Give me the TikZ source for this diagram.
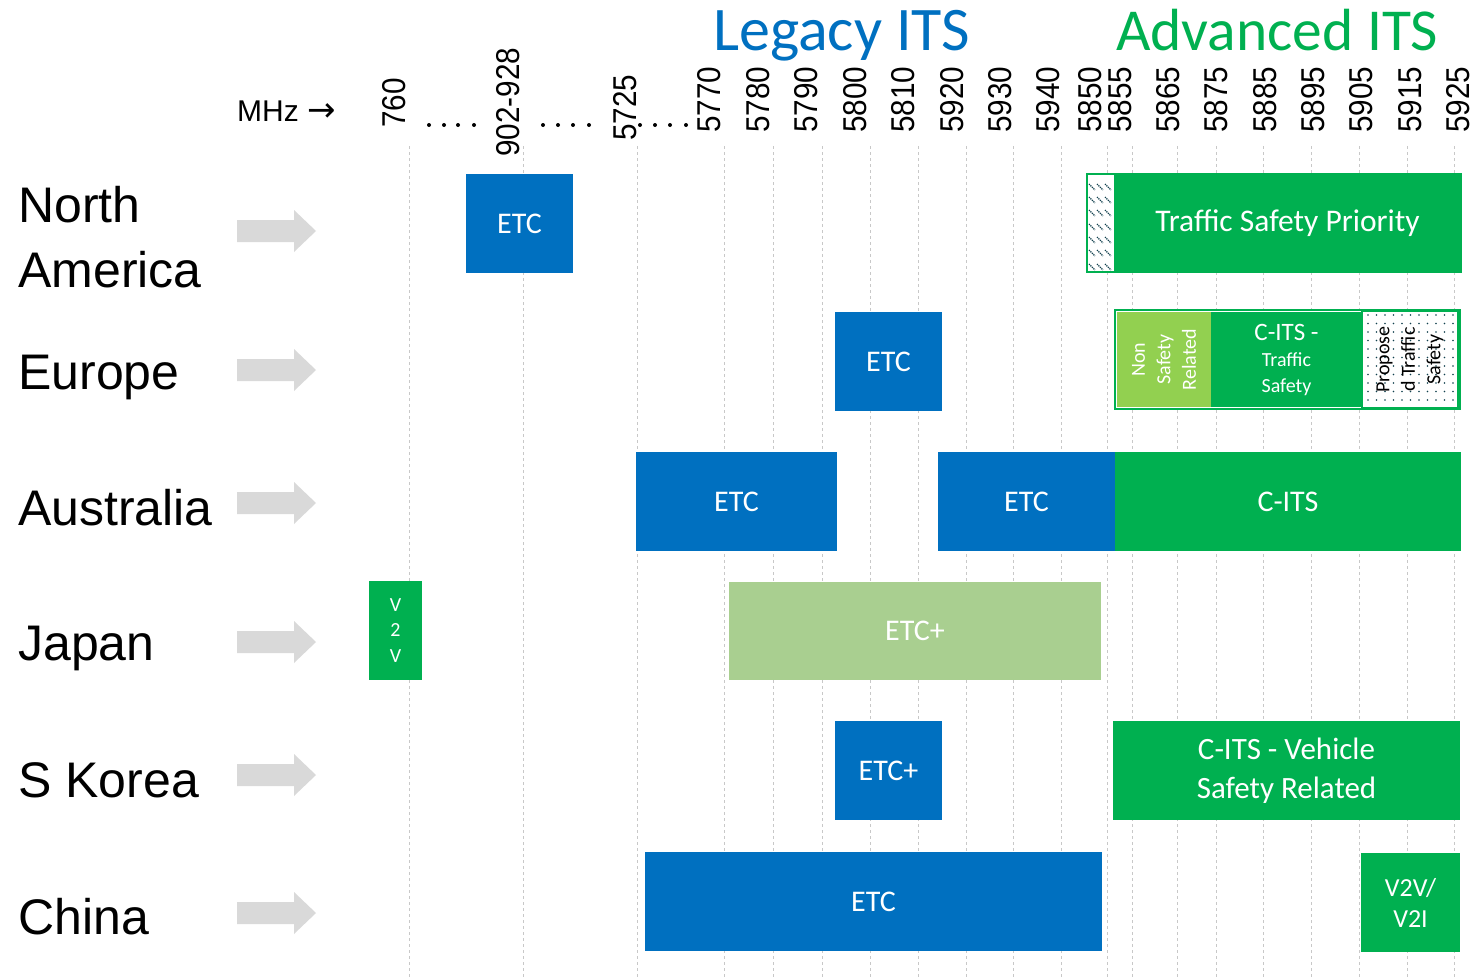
\documentclass[tikz,border=0pt]{standalone}
\usepackage{fontspec}
\setmainfont{Carlito}
\newfontfamily\arialf{Liberation Sans}
\newfontfamily\narrowf[FakeStretch=0.9]{Liberation Sans}
\newfontfamily\symf{DejaVu Sans}

\definecolor{itsblue}{HTML}{0070C0}
\definecolor{itsgreen}{HTML}{00B050}
\definecolor{lightgrn}{HTML}{92D050}
\definecolor{sage}{HTML}{A9CF90}
\definecolor{arrowgrey}{HTML}{D9D9D9}
\definecolor{gridgrey}{HTML}{C8C8C8}
\definecolor{patteal}{HTML}{12414F}

\begin{document}
\begin{tikzpicture}[x=1pt,y=-1pt,
  band/.style={rectangle, inner sep=0pt, outer sep=0pt, text=white, align=center,
    font=\fontsize{30}{36}\selectfont},
  blueband/.style={band, fill=itsblue},
  greenband/.style={band, fill=itsgreen},
  freqlabel/.style={rotate=90, anchor=south west, inner sep=0pt,
    font=\narrowf\fontsize{33}{33}\selectfont},
  country/.style={anchor=base west, inner sep=0pt, align=left,
    font=\arialf\fontsize{50}{65}\selectfont},
  gridline/.style={gridgrey, line width=0.9pt, dash pattern=on 3pt off 3pt},
  sidetext/.style={rotate=90, inner sep=0pt, align=center,
    font=\fontsize{20}{25.5}\selectfont},
]
\useasboundingbox (0,0) rectangle (1480,977);

% frequency columns
\foreach \gx in {409,523,637,724,773,822,870,918,966,1013,1061,1107,1132,1177,1216,1263,1311,1359,1407,1454}
  \draw[gridline] (\gx,146) -- (\gx,977);

% headings
\node[anchor=base west, inner sep=0pt, text=itsblue, font=\fontsize{62}{62}\selectfont]
  (legacy) at (713,50) {Legacy ITS};
\node[anchor=base west, inner sep=0pt, text=itsgreen, font=\fontsize{59.5}{59.5}\selectfont]
  (advanced) at (1116,50) {Advanced ITS};

% axis unit
\node[anchor=base west, inner sep=0pt, font=\arialf\fontsize{30}{30}\selectfont]
  (unit) at (237,121) {MHz {\symf\fontsize{34}{34}\selectfont →}};

% frequency labels
\foreach \r/\b/\t [count=\k] in {406/128/760, 520/157/902-928, 637/141/5725, 721/133/5770,
    770/133/5780, 818/133/5790, 867/133/5800, 915/133/5810, 964/133/5920, 1012/133/5930,
    1060/133/5940, 1102/133/5850, 1132/133/5855, 1180/133/5865, 1228/133/5875,
    1277/133/5885, 1325/133/5895, 1373/133/5905, 1422/133/5915, 1470/133/5925}
  \node[freqlabel] (freq\k) at (\r,\b) {\t};

% gaps in the frequency axis
\foreach \dx in {429,444,458,474,543,558,573,589,640,655,670,686}
  \fill (\dx,125) circle[radius=2pt];

% regions
\node[country] (na) at (18,287) {North\\America};
\node[country] (eu) at (18,389) {Europe};
\node[country] (au) at (18,525) {Australia};
\node[country] (jp) at (18,660) {Japan};
\node[country] (kr) at (18,797) {S Korea};
\node[country] (cn) at (18,934) {China};

% grey pointers
\foreach \ay in {231,370,503,642,775,913}
  \fill[arrowgrey] (237,\ay) ++(0,-11) -- ++(57,0) -- ++(0,-10) -- ++(22,21)
    -- ++(-22,21) -- ++(0,-10) -- ++(-57,0) -- cycle;

% North America
\node[blueband, minimum width=107pt, minimum height=99pt] (naetc) at (519.5,223.5) {ETC};
\node[draw=itsgreen, line width=2pt, fill=white, minimum width=28pt, minimum height=98pt,
  inner sep=0pt] (nahatch) at (1101,223) {};
\foreach \hy in {187,200,213,227,240,253,267}
  \foreach \hx in {1089,1097,1105}
    \draw[patteal, line width=1.3pt, dash pattern=on 1.2pt off 0.9pt]
      (\hx,\hy-3) -- (\hx+6,\hy+3);
\draw[itsgreen, line width=2pt] (1087,174) rectangle (1461,272);
\node[greenband, minimum width=347pt, minimum height=99pt, font=\fontsize{31.5}{36}\selectfont]
  (natsp) at (1287.5,223.5) {Traffic Safety Priority};

% Europe
\node[blueband, minimum width=107pt, minimum height=99pt] (euetc) at (888.5,361.5) {ETC};
\draw[itsgreen, line width=2pt] (1115,310) rectangle (1460,409);
\node[band, fill=lightgrn, minimum width=94pt, minimum height=95pt] (eunsr) at (1164,359.5) {};
\node[sidetext, text=white] (eunsrtext) at (eunsr.center) {Non\\Safety\\Related};
\node[greenband, minimum width=151pt, minimum height=95pt, font=\fontsize{20}{26}\selectfont]
  (eucits) at (1286.5,359.5) {{\fontsize{25}{26}\selectfont C-ITS -}\\Traffic\\Safety};
\node[draw=itsgreen, line width=1.5pt, fill=white, minimum width=96pt, minimum height=97pt,
  inner sep=0pt] (euprop) at (1410,359.5) {};
\foreach \i in {0,...,10}
  \foreach \j in {0,...,10}
    \fill[patteal] ({1368+8.5*\i},{315+8.5*\j}) circle[radius=0.9pt];
\node[sidetext, text=black] (euproptext) at (euprop.center) {Propose\\d Traffic\\Safety};

% Australia
\node[blueband, minimum width=201pt, minimum height=99pt] (auetca) at (736.5,501.5) {ETC};
\node[blueband, minimum width=177pt, minimum height=99pt] (auetcb) at (1026.5,501.5) {ETC};
\node[greenband, minimum width=346pt, minimum height=99pt] (aucits) at (1288,501.5) {C-ITS};

% Japan
\node[greenband, minimum width=53pt, minimum height=99pt, font=\fontsize{20}{25.5}\selectfont]
  (jpv2v) at (395.5,630.5) {V\\2\\V};
\node[band, fill=sage, minimum width=372pt, minimum height=98pt] (jpetc) at (915,631) {ETC+};

% S Korea
\node[blueband, minimum width=107pt, minimum height=99pt] (kretc) at (888.5,770.5) {ETC+};
\node[greenband, minimum width=347pt, minimum height=99pt, font=\fontsize{31}{39}\selectfont]
  (krcits) at (1286.5,770.5) {C-ITS - Vehicle\\Safety Related};

% China
\node[blueband, minimum width=457pt, minimum height=99pt] (cnetc) at (873.5,901.5) {ETC};
\node[greenband, minimum width=99pt, minimum height=99pt, font=\fontsize{26}{31}\selectfont]
  (cnv2v) at (1410.5,902.5) {V2V/\\V2I};

\end{tikzpicture}
\end{document}
